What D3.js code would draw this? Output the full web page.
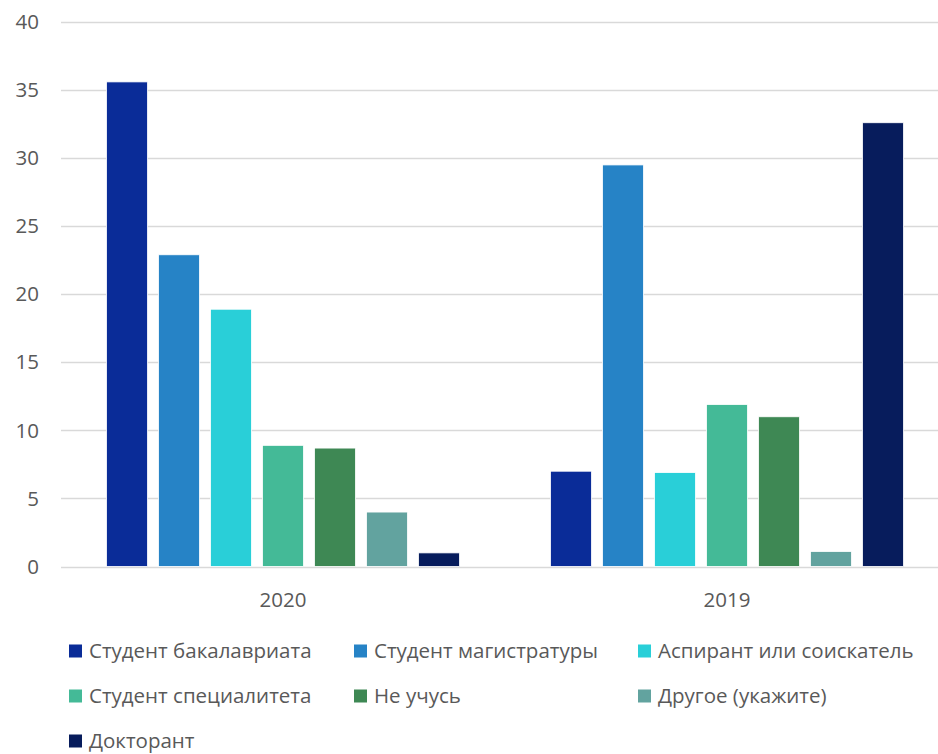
<!DOCTYPE html>
<html>
<head>
<meta charset="utf-8">
<script src="https://cdn.jsdelivr.net/npm/d3@7"></script>
<style>
    body { margin: 0; background: #fff; }
    svg { display: block; font-family: "Open Sans", "Liberation Sans", sans-serif; }
</style>
</head>
<body>
<div id="chart"></div>
<script>
// Chart data
const years = ["2020", "2019"];
const seriesNames = [
    "Студент бакалавриата",
    "Студент магистратуры",
    "Аспирант или соискатель",
    "Студент специалитета",
    "Не учусь",
    "Другое (укажите)",
    "Докторант"
];
const values2020 = [35.6, 22.9, 18.9, 8.9, 8.7, 4.0, 1.0];
const values2019 = [7.0, 29.5, 6.9, 11.9, 11.0, 1.1, 32.6];
const yTicks = [0, 5, 10, 15, 20, 25, 30, 35, 40];
const colors = ["#0a2c98", "#2683c6", "#29cfd8", "#44ba97", "#3e8854", "#62a39f", "#071c5c"];

const width = 938, height = 754;
const plotLeft = 61, plotRight = 938;
const fontSize = "20.5px";

const svg = d3.select("#chart")
    .append("svg")
    .attr("width", width)
    .attr("height", height);

const y = d3.scaleLinear()
    .domain([0, 40])
    .range([566.5, 22]);

// Group bands (the original plot area runs a little past the right edge)
const x0 = d3.scaleBand()
    .domain(years)
    .range([plotLeft, 949]);

const x1 = d3.scaleBand()
    .domain(d3.range(seriesNames.length))
    .range([45.5, x0.bandwidth() - 45.5])
    .paddingInner(11 / 52);

// Gridlines
svg.append("g")
    .selectAll("line")
    .data(yTicks)
    .join("line")
    .attr("x1", plotLeft)
    .attr("x2", plotRight)
    .attr("y1", d => Math.round(y(d)) + 0.5)
    .attr("y2", d => Math.round(y(d)) + 0.5)
    .attr("stroke", "#d9d9d9")
    .attr("stroke-width", 1.3);

// Y tick labels
svg.append("g")
    .selectAll("text")
    .data(yTicks)
    .join("text")
    .attr("x", 39)
    .attr("y", d => y(d))
    .attr("dy", "0.35em")
    .attr("text-anchor", "end")
    .style("font-size", fontSize)
    .style("fill", "#595959")
    .text(d => d);

// Bars
const yearData = { "2020": values2020, "2019": values2019 };

const groups = svg.append("g")
    .selectAll("g")
    .data(years)
    .join("g")
    .attr("transform", d => `translate(${x0(d)},0)`);

groups.selectAll("rect")
    .data(d => yearData[d].map((v, i) => ({ i: i, v: v })))
    .join("rect")
    .attr("x", d => x1(d.i))
    .attr("width", x1.bandwidth())
    .attr("y", d => y(d.v))
    .attr("height", d => y(0) - y(d.v))
    .attr("fill", d => colors[d.i])
    .attr("stroke", "#ffffff")
    .attr("stroke-width", 0.8);

// Category labels
svg.append("g")
    .selectAll("text")
    .data(years)
    .join("text")
    .attr("x", d => x0(d) + x0.bandwidth() / 2)
    .attr("y", 600)
    .attr("dy", "0.35em")
    .attr("text-anchor", "middle")
    .style("font-size", fontSize)
    .style("fill", "#595959")
    .text(d => d);

// Legend, 3 columns
const legendCols = [69, 354, 638];
const legendRows = [651, 696, 741];

const legend = svg.append("g")
    .selectAll("g")
    .data(seriesNames)
    .join("g")
    .attr("transform", (d, i) => `translate(${legendCols[i % 3]},${legendRows[Math.floor(i / 3)]})`);

legend.append("rect")
    .attr("x", 0)
    .attr("y", -6.5)
    .attr("width", 13)
    .attr("height", 13)
    .attr("fill", (d, i) => colors[i]);

legend.append("text")
    .attr("x", 20)
    .attr("y", 0)
    .attr("dy", "0.35em")
    .style("font-size", fontSize)
    .style("fill", "#595959")
    .text(d => d);
</script>
</body>
</html>
